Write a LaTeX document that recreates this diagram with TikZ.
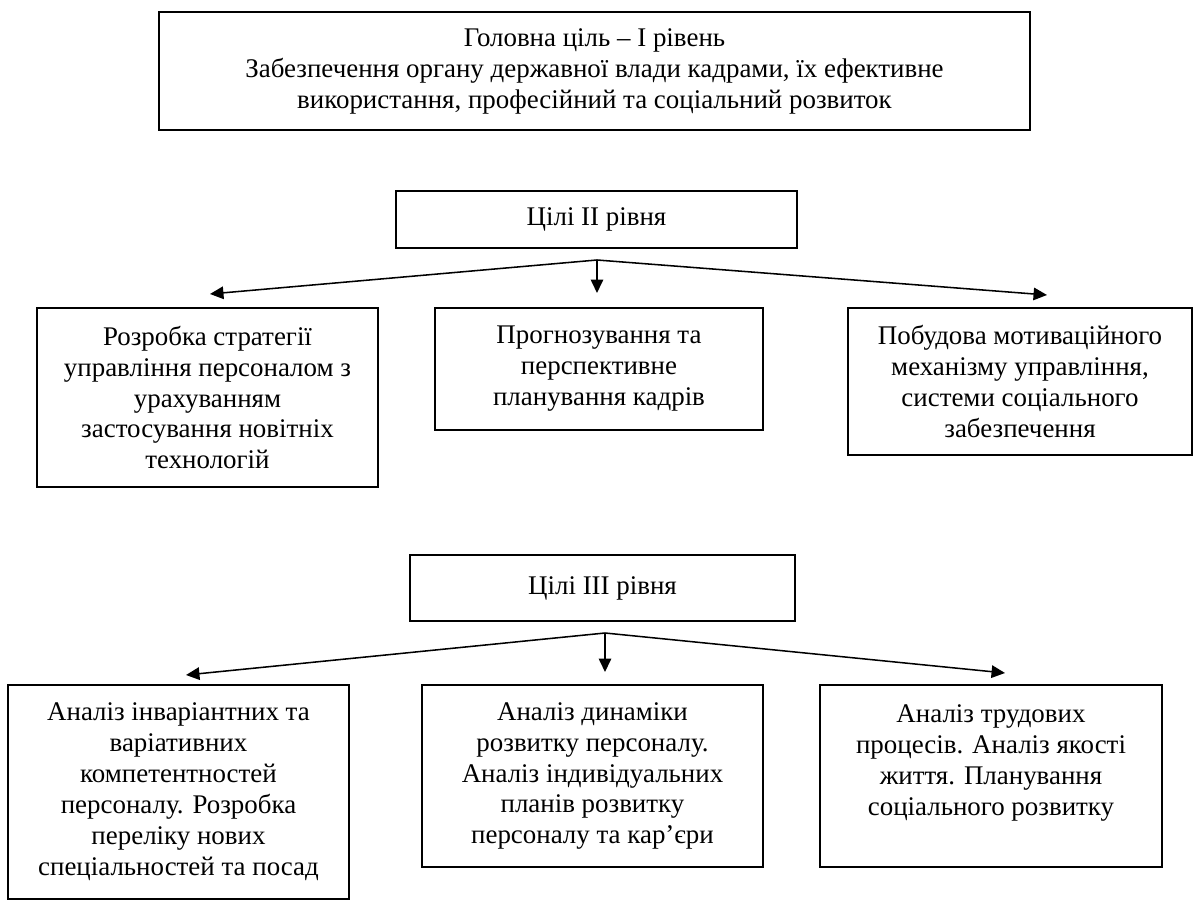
\documentclass[tikz,border=0pt]{standalone}
\usepackage{fontspec}
\setmainfont{Liberation Serif}
\usetikzlibrary{arrows.meta}
\tikzset{
  goal box/.style={
    draw,
    line width=0.9pt,
    inner sep=0pt,
    align=center,
    font=\fontsize{14}{16.1}\selectfont
  },
  goal arrow/.style={
    line width=0.8pt,
    -{Triangle[length=7pt,width=6.5pt]}
  }
}

\begin{document}
\begin{tikzpicture}[x=0.52pt,y=-0.52pt]
\useasboundingbox (0,0) rectangle (1198,902);
% level I
\node (top) at (594.5,71) [goal box,minimum width=452.9pt,minimum height=61.4pt]
  {Головна ціль – І рівень\\Забезпечення органу державної влади кадрами, їх ефективне\\використання, професійний та соціальний розвиток};
% level II
\node (lvlII) at (596.5,219.5) [goal box,minimum width=208.5pt,minimum height=29.6pt] {Цілі ІІ рівня};
\node (IIa) at (207.5,397.5) [goal box,minimum width=177.3pt,minimum height=93.1pt]
  {Розробка стратегії\\управління персоналом з\\урахуванням\\застосування новітніх\\технологій};
\node (IIb) at (599,369) [goal box,minimum width=170.6pt,minimum height=63.4pt]
  {Прогнозування та\\перспективне\\планування кадрів};
\node (IIc) at (1020,381.5) [goal box,minimum width=178.9pt,minimum height=76.4pt]
  {Побудова мотиваційного\\механізму управління,\\системи соціального\\забезпечення};
\coordinate (forkII) at (597,260);
\coordinate (tipIIa) at (210,294);
\coordinate (tipIIb) at (597,293);
\coordinate (tipIIc) at (1047,295);
\draw [goal arrow] (forkII) -- (tipIIa);
\draw [goal arrow] (forkII) -- (tipIIb);
\draw [goal arrow] (forkII) -- (tipIIc);
% level III
\node (lvlIII) at (602.5,588) [goal box,minimum width=200.2pt,minimum height=34.3pt] {Цілі ІІІ рівня};
\node (IIIa) at (178.5,792) [goal box,minimum width=177.3pt,minimum height=111.3pt]
  {Аналіз інваріантних та\\варіативних\\компетентностей\\персоналу. Розробка\\переліку нових\\спеціальностей та посад};
\node (IIIb) at (592.5,776) [goal box,minimum width=177.3pt,minimum height=94.6pt]
  {Аналіз динаміки\\розвитку персоналу.\\Аналіз індивідуальних\\планів розвитку\\персоналу та кар’єри};
\node (IIIc) at (991,776) [goal box,minimum width=177.8pt,minimum height=94.6pt]
  {Аналіз трудових\\процесів. Аналіз якості\\життя. Планування\\соціального розвитку\\\mbox{}};
\coordinate (forkIII) at (605,633);
\coordinate (tipIIIa) at (186,675);
\coordinate (tipIIIb) at (605,672);
\coordinate (tipIIIc) at (1005,673);
\draw [goal arrow] (forkIII) -- (tipIIIa);
\draw [goal arrow] (forkIII) -- (tipIIIb);
\draw [goal arrow] (forkIII) -- (tipIIIc);
\end{tikzpicture}
\end{document}
